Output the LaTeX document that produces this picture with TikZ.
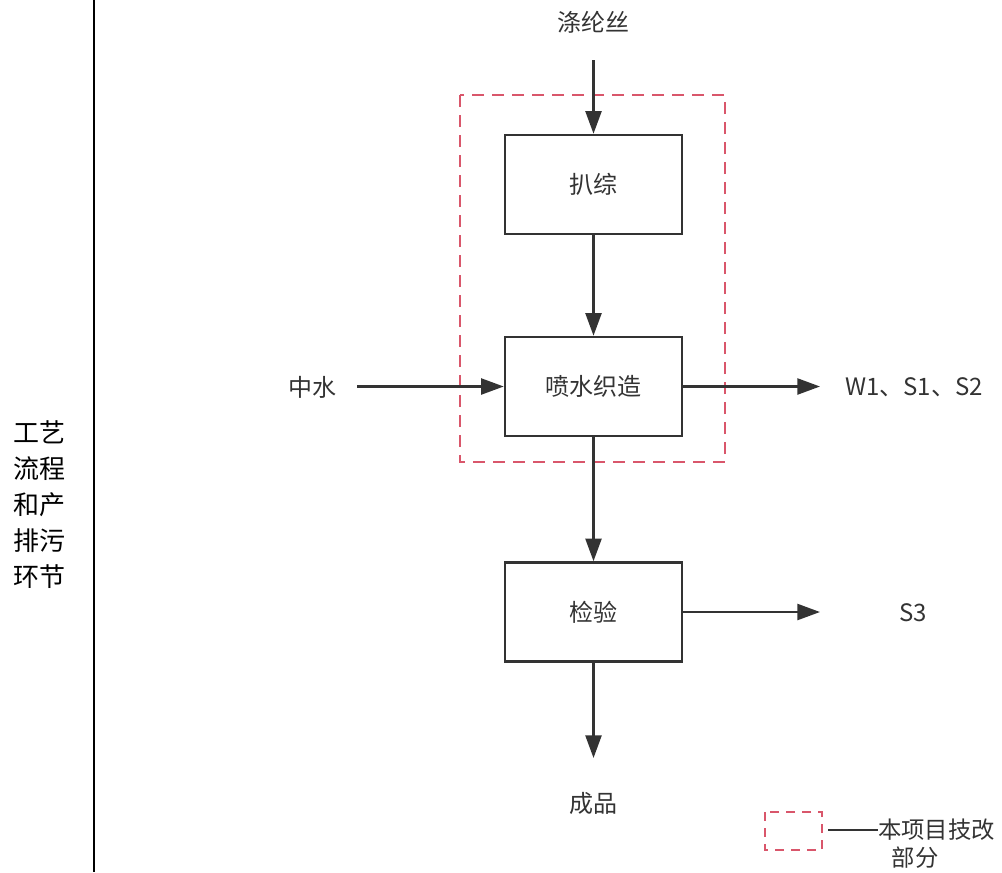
\documentclass[tikz,border=0pt]{standalone}
\usepackage{fontspec}
\setmainfont{Noto Sans CJK SC}
\newfontfamily\cjk{Noto Sans CJK SC}
\usetikzlibrary{arrows.meta}
\definecolor{dashred}{HTML}{D9566B}
\definecolor{ink}{HTML}{333333}
\begin{document}
\begin{tikzpicture}[x=0.75pt,y=-0.75pt,
  proc/.style={draw=ink,line width=1.9pt,minimum width=177*0.75pt,minimum height=99*0.75pt,inner sep=0pt,font=\fontsize{18pt}{20pt}\selectfont,text=ink},
  lbl/.style={inner sep=0pt,font=\fontsize{18pt}{20pt}\selectfont,text=ink},
  flow/.style={draw=ink,line width=1.8pt,-{Triangle[length=17pt,width=12pt]}},
  redbox/.style={draw=dashred,line width=1.8pt,dash pattern=on 9pt off 6pt}]
\useasboundingbox (0,0) rectangle (1002,872);
\draw[line width=0.8pt] (94,0) -- (94,872);
\node[inner sep=0pt,font=\fontsize{19.5pt}{27pt}\selectfont,align=center] (side) at (39,505) {工艺\\流程\\和产\\排污\\环节};
\draw[redbox] (460,95) rectangle (725,462);
\node[lbl] (src) at (593,22) {涤纶丝};
\coordinate (srcend) at (593.5,60);
\node[proc] (p1) at (593.5,184.5) {扒综};
\node[proc] (p2) at (593.5,386.5) {喷水织造};
\node[proc] (p3) at (593.5,612) {检验};
\node[lbl] (water) at (312,387) {中水};
\coordinate (wstart) at (357,386.5);
\coordinate (wout) at (820,386.5);
\node[lbl,anchor=west] (w1) at (845,387) {W1、S1、S2};
\coordinate (s3out) at (820,612);
\node[lbl] (s3) at (913,613) {S3};
\coordinate (prodend) at (593.5,758);
\node[lbl] (prod) at (593,803) {成品};
\draw[flow] (srcend) -- (p1.north);
\draw[flow] (p1.south) -- (p2.north);
\draw[flow] (wstart) -- (p2.west);
\draw[flow] (p2.east) -- (wout);
\draw[flow] (p2.south) -- (p3.north);
\draw[flow] (p3.east) -- (s3out);
\draw[flow] (p3.south) -- (prodend);
\draw[redbox,dash pattern=on 7pt off 5pt] (765,812) rectangle (822,850);
\coordinate (legl) at (828,830);
\node[lbl,anchor=west,font=\fontsize{17.5pt}{20pt}\selectfont] (legt) at (878,830) {本项目技改};
\draw[line width=1.2pt,draw=ink] (legl) -- (legt.west);
\node[lbl,font=\fontsize{17.5pt}{20pt}\selectfont] (legt2) at (915,858) {部分};
\end{tikzpicture}
\end{document}
